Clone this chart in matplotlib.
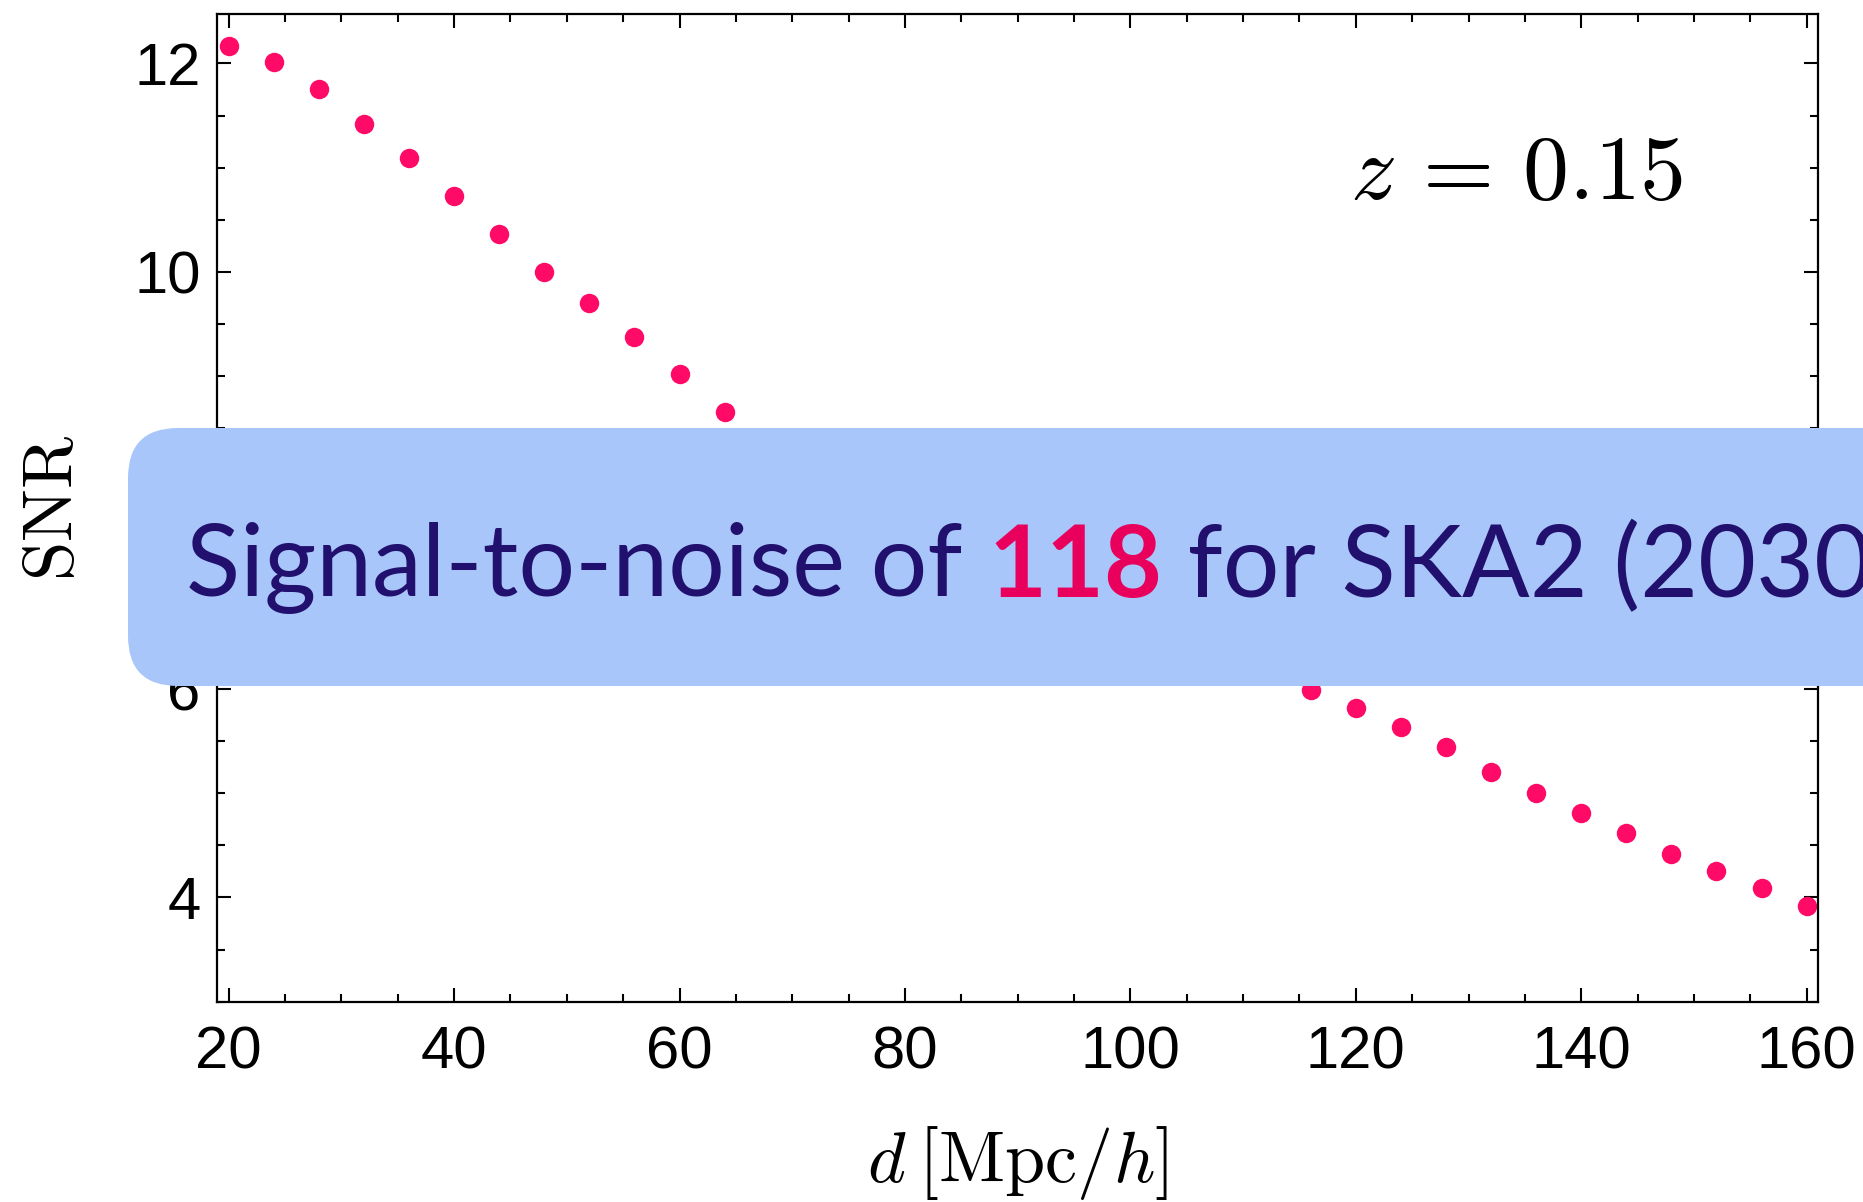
import matplotlib
matplotlib.use('Agg')
import matplotlib.pyplot as plt
from matplotlib.patches import FancyBboxPatch
from matplotlib.text import Annotation
from matplotlib.transforms import IdentityTransform
from matplotlib.ticker import MultipleLocator

# SNR versus separation d, at z = 0.15
d_vals = [20, 24, 28, 32, 36, 40, 44, 48, 52, 56, 60, 64,
          68, 72, 76, 80, 84, 88, 92, 96, 100, 104, 108, 112,
          116, 120, 124, 128, 132, 136, 140, 144, 148, 152, 156, 160]
snr_vals = [12.17, 12.01, 11.75, 11.42, 11.09, 10.73, 10.36, 10.00, 9.70, 9.38, 9.02, 8.66,
            8.36, 8.09, 7.84, 7.61, 7.40, 7.21, 7.03, 6.86, 6.69, 6.52, 6.35, 6.18,
            5.99, 5.82, 5.63, 5.44, 5.20, 5.00, 4.81, 4.62, 4.42, 4.25, 4.09, 3.92]
x_ticks = [20, 40, 60, 80, 100, 120, 140, 160]
y_ticks = [4, 6, 8, 10, 12]

banner_parts = [("Signal-to-noise of ", '#22106E', 'normal'),
                ("118", '#E8005C', 'bold'),
                (" for SKA2 (2030)", '#22106E', 'normal')]

plt.rcParams['mathtext.fontset'] = 'cm'

fig = plt.figure(figsize=(18.63, 12.02), dpi=100)
ax = fig.add_axes([0.1167, 0.1667, 0.8591, 0.8213])

ax.plot(d_vals, snr_vals, 'o', color='#FF0A66', markersize=14, markeredgewidth=0)

ax.set_xlim(19, 161)
ax.set_ylim(3, 12.47)
ax.set_xticks(x_ticks)
ax.set_yticks(y_ticks)
ax.xaxis.set_minor_locator(MultipleLocator(5))
ax.yaxis.set_minor_locator(MultipleLocator(0.5))
ax.tick_params(which='both', direction='in', top=True, right=True, width=1.5)
ax.tick_params(which='major', length=10)
ax.tick_params(which='minor', length=6)
ax.tick_params(axis='x', which='major', pad=17)
ax.tick_params(axis='y', which='major', pad=12)
for lab in ax.get_xticklabels() + ax.get_yticklabels():
    lab.set_family('Liberation Sans')
    lab.set_fontsize(43)
for sp in ax.spines.values():
    sp.set_linewidth(1.6)

ax.set_xlabel(r'$d\:[\mathrm{Mpc}/h]$', fontsize=52)
ax.set_ylabel(r'$\mathrm{SNR}$', fontsize=51)
ax.xaxis.set_label_coords(0.5, -0.124)
ax.yaxis.set_label_coords(-0.0806, 0.5)

ax.text(134.3, 10.95, r'$z\,=\,0.15$', fontsize=66, ha='center', va='center')

# banner over the plot
box = FancyBboxPatch((128, 1202 - 686), 2000, 686 - 428,
                     boxstyle='round,pad=0,rounding_size=50',
                     transform=IdentityTransform(), facecolor='#A8C6FA',
                     edgecolor='none', zorder=5)
fig.add_artist(box)

s0, c0, w0 = banner_parts[0]
txt = fig.text(186 / 1863, 1 - 596 / 1202, s0, color=c0, fontweight=w0,
               fontsize=72, family='Lato', va='baseline', ha='left', zorder=6)
for s, c, w in banner_parts[1:]:
    txt = fig.add_artist(Annotation(s, xy=(1, 0), xycoords=txt, va='bottom', ha='left',
                                    color=c, fontweight=w, fontsize=72, family='Lato',
                                    zorder=6, annotation_clip=False))

fig.savefig('out.png', dpi=100)
